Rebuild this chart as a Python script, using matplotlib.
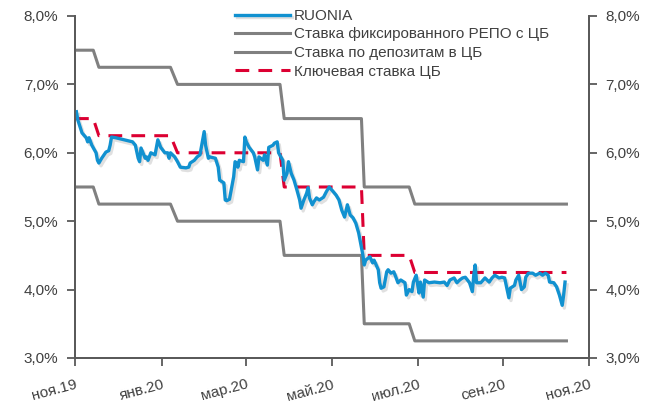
import matplotlib
matplotlib.use("Agg")
import matplotlib.pyplot as plt
import matplotlib.patheffects as pe
import pandas as pd

plt.rcParams['font.family'] = ['Liberation Sans', 'DejaVu Sans']

# ставки ЦБ (точки перелома)
step_dates = ['2019-12-01', '2019-12-14', '2019-12-18', '2020-02-07', '2020-02-12',
              '2020-04-25', '2020-04-28', '2020-06-22', '2020-06-24', '2020-07-26',
              '2020-07-30', '2020-11-15']
repo = [7.5, 7.5, 7.25, 7.25, 7.0, 7.0, 6.5, 6.5, 5.5, 5.5, 5.25, 5.25]
deposit = [5.5, 5.5, 5.25, 5.25, 5.0, 5.0, 4.5, 4.5, 3.5, 3.5, 3.25, 3.25]
key = [6.5, 6.5, 6.25, 6.25, 6.0, 6.0, 5.5, 5.5, 4.5, 4.5, 4.25, 4.25]

# RUONIA
ruonia_dates = [
    '2019-12-02', '2019-12-03', '2019-12-06', '2019-12-09', '2019-12-10', '2019-12-11',
    '2019-12-13', '2019-12-16', '2019-12-17', '2019-12-18', '2019-12-20', '2019-12-23',
    '2019-12-25', '2019-12-26', '2019-12-27', '2019-12-30', '2020-01-05', '2020-01-11',
    '2020-01-13', '2020-01-15', '2020-01-16', '2020-01-17', '2020-01-20', '2020-01-21',
    '2020-01-22', '2020-01-24', '2020-01-27', '2020-01-28', '2020-01-29', '2020-01-31',
    '2020-02-03', '2020-02-05', '2020-02-06', '2020-02-07', '2020-02-10', '2020-02-12',
    '2020-02-14', '2020-02-18', '2020-02-20', '2020-02-21', '2020-02-24', '2020-02-26',
    '2020-02-28', '2020-03-02', '2020-03-03', '2020-03-05', '2020-03-06', '2020-03-10',
    '2020-03-12', '2020-03-13', '2020-03-16', '2020-03-17', '2020-03-18', '2020-03-19',
    '2020-03-20', '2020-03-23', '2020-03-24', '2020-03-25', '2020-03-26', '2020-03-27',
    '2020-03-30', '2020-03-31', '2020-04-01', '2020-04-03', '2020-04-06', '2020-04-07',
    '2020-04-09', '2020-04-10', '2020-04-13', '2020-04-14', '2020-04-16', '2020-04-17',
    '2020-04-20', '2020-04-21', '2020-04-23', '2020-04-24', '2020-04-27', '2020-04-28',
    '2020-04-30', '2020-05-01', '2020-05-03', '2020-05-05', '2020-05-07', '2020-05-09',
    '2020-05-10', '2020-05-12', '2020-05-14', '2020-05-15', '2020-05-16', '2020-05-18',
    '2020-05-19', '2020-05-21', '2020-05-23', '2020-05-26', '2020-05-28', '2020-05-30',
    '2020-06-02', '2020-06-04', '2020-06-06', '2020-06-08', '2020-06-10', '2020-06-12',
    '2020-06-14', '2020-06-16', '2020-06-18', '2020-06-20', '2020-06-22', '2020-06-23',
    '2020-06-24', '2020-06-25', '2020-06-28', '2020-06-30', '2020-07-01', '2020-07-04',
    '2020-07-05', '2020-07-06', '2020-07-08', '2020-07-10', '2020-07-11', '2020-07-13',
    '2020-07-15', '2020-07-16', '2020-07-18', '2020-07-20', '2020-07-23', '2020-07-24',
    '2020-07-26', '2020-07-28', '2020-07-29', '2020-07-31', '2020-08-02', '2020-08-03',
    '2020-08-05', '2020-08-06', '2020-08-09', '2020-08-13', '2020-08-17', '2020-08-20',
    '2020-08-22', '2020-08-24', '2020-08-27', '2020-08-29', '2020-08-31', '2020-09-02',
    '2020-09-04', '2020-09-07', '2020-09-09', '2020-09-10', '2020-09-11', '2020-09-12',
    '2020-09-15', '2020-09-18', '2020-09-21', '2020-09-23', '2020-09-25', '2020-09-28',
    '2020-09-30', '2020-10-02', '2020-10-05', '2020-10-06', '2020-10-09', '2020-10-10',
    '2020-10-12', '2020-10-14', '2020-10-16', '2020-10-17', '2020-10-19', '2020-10-22',
    '2020-10-24', '2020-10-27', '2020-10-29', '2020-10-31', '2020-11-02', '2020-11-03',
    '2020-11-06', '2020-11-08', '2020-11-10', '2020-11-12', '2020-11-13', '2020-11-14']
ruonia = [
    6.60, 6.48, 6.29, 6.22, 6.16, 6.22,
    6.11, 6.00, 5.89, 5.85, 5.92, 6.01,
    6.03, 6.11, 6.23, 6.22, 6.19, 6.16,
    6.11, 5.92, 5.87, 6.07, 5.92, 5.94,
    5.89, 6.00, 5.97, 6.08, 6.19, 6.08,
    6.00, 6.00, 5.92, 6.00, 5.94, 5.87,
    5.79, 5.78, 5.79, 5.85, 5.89, 5.94,
    5.97, 6.31, 6.11, 5.92, 5.94, 5.92,
    5.79, 5.60, 5.56, 5.31, 5.30, 5.31,
    5.32, 5.65, 5.87, 5.85, 5.79, 5.89,
    5.87, 6.23, 6.16, 6.08, 6.00, 5.94,
    5.75, 5.94, 5.89, 5.97, 5.82, 6.08,
    6.11, 6.14, 6.16, 6.00, 5.89, 5.60,
    5.70, 5.87, 5.70, 5.60, 5.46, 5.31,
    5.19, 5.31, 5.41, 5.49, 5.34, 5.24,
    5.28, 5.34, 5.31, 5.35, 5.43, 5.50,
    5.43, 5.38, 5.31, 5.16, 5.06, 5.24,
    5.09, 5.05, 4.97, 4.83, 4.62, 4.51,
    4.36, 4.43, 4.48, 4.39, 4.43, 4.29,
    4.10, 4.02, 4.04, 4.26, 4.29, 4.24,
    4.26, 4.21, 4.10, 4.14, 4.10, 3.92,
    4.00, 3.97, 4.11, 4.21, 3.95, 4.11,
    3.89, 4.14, 4.10, 4.11, 4.10, 4.11,
    4.06, 4.14, 4.17, 4.10, 4.14, 4.17,
    4.18, 4.10, 3.97, 4.21, 4.36, 4.10,
    4.10, 4.17, 4.11, 4.17, 4.21, 4.17,
    4.18, 4.17, 3.88, 4.02, 4.06, 4.14,
    4.21, 4.00, 4.04, 4.18, 4.24, 4.24,
    4.21, 4.24, 4.21, 4.24, 4.21, 4.11,
    4.10, 4.04, 3.92, 3.77, 3.92, 4.11]

tick_dates = ['2019-12-01', '2020-02-01', '2020-04-01', '2020-06-01',
              '2020-08-01', '2020-10-01', '2020-12-01']
tick_labels = ['ноя.19', 'янв.20', 'мар.20', 'май.20', 'июл.20', 'сен.20', 'ноя.20']
y_ticks = [3, 4, 5, 6, 7, 8]

sd = pd.to_datetime(step_dates)
rd = pd.to_datetime(ruonia_dates)

fig = plt.figure(figsize=(6.5, 4.03), dpi=100)
ax = fig.add_axes([0.1154, 0.1117, 0.7906, 0.8486])

txt = '#404040'
spine_c = '#595959'

l1, = ax.plot(rd, ruonia, color='#1191d0', lw=2.4, label='RUONIA', zorder=5,
              solid_joinstyle='round',
              path_effects=[pe.SimpleLineShadow(offset=(1.5, -2), alpha=0.18, shadow_color='#555555'),
                            pe.Normal()])
l2, = ax.plot(sd, repo, color='#808080', lw=2.2, label='Ставка фиксированного РЕПО с ЦБ', zorder=3)
l3, = ax.plot(sd, deposit, color='#808080', lw=2.2, label='Ставка по депозитам в ЦБ', zorder=3)
l4, = ax.plot(sd, key, color='#dc0032', lw=2.2, ls=(0, (4.5, 3)), label='Ключевая ставка ЦБ', zorder=4)

ax.set_xlim(pd.Timestamp('2019-12-01'), pd.Timestamp('2020-12-01'))
ax.set_ylim(3, 8)
ax.set_yticks(y_ticks)
ax.set_yticklabels([f'{v:.1f}%'.replace('.', ',') for v in y_ticks])
ax.set_xticks(pd.to_datetime(tick_dates))
ax.set_xticklabels(tick_labels, rotation=15, ha='right', rotation_mode='anchor')

ax2 = ax.twinx()
ax2.set_ylim(3, 8)
ax2.set_yticks(y_ticks)
ax2.set_yticklabels([f'{v:.1f}%'.replace('.', ',') for v in y_ticks])

for a in (ax, ax2):
    a.spines['top'].set_visible(False)
    for s in ('left', 'right', 'bottom'):
        a.spines[s].set_color(spine_c)
        a.spines[s].set_linewidth(1.3)
    a.tick_params(axis='both', colors=spine_c, labelcolor=txt, labelsize=11,
                  length=6, width=1.3, direction='out')
ax.tick_params(axis='x', pad=8)
ax.tick_params(axis='y', pad=6)
ax2.tick_params(axis='y', pad=6)

fig.legend(handles=[l1, l2, l3, l4], loc='upper left', bbox_to_anchor=(0.341, 1.012),
           frameon=False, fontsize=11, handlelength=3.6, handletextpad=0.25,
           labelspacing=0.3, labelcolor=txt)

fig.savefig('out.png', dpi=100)
